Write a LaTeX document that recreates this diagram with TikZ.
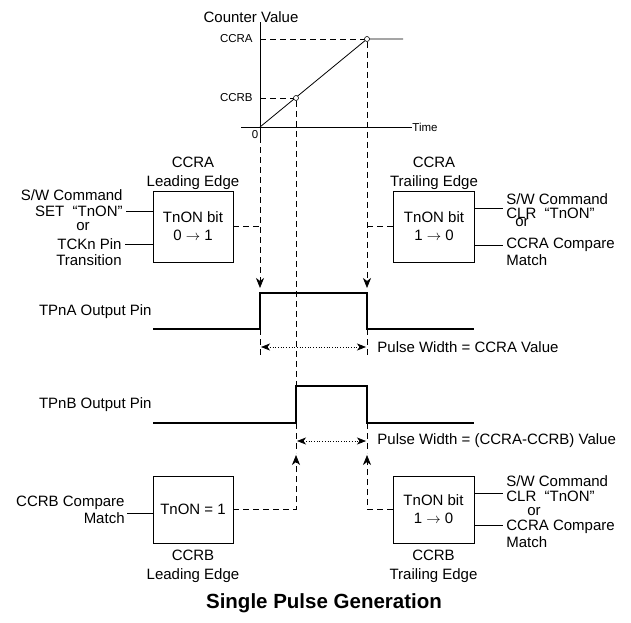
\documentclass[tikz,border=0pt]{standalone}
\usepackage{fontspec}
\setmainfont{Liberation Sans}
\usetikzlibrary{arrows.meta,positioning}

\tikzset{
  box/.style={draw, line width=0.8pt, minimum width=80pt, align=center, inner sep=0pt,
    font=\fontsize{15}{18}\selectfont},
  txt/.style={inner sep=0pt, font=\fontsize{15}{15}\selectfont},
  small/.style={inner sep=0pt, font=\fontsize{11.5}{12}\selectfont},
  head/.style={align=center, inner sep=0pt, font=\fontsize{15}{19}\selectfont},
  guide/.style={line width=0.7pt, dash pattern=on 6pt off 4pt},
  trig/.style={guide, -{Stealth[length=10pt,width=8pt,inset=3pt]}},
  wave/.style={line width=1.3pt},
  widtharrow/.style={line width=0.7pt, dotted,
    {Stealth[length=9pt,width=7pt,inset=2.5pt]}-{Stealth[length=9pt,width=7pt,inset=2.5pt]}},
  knot/.style={circle, draw, fill=white, inner sep=0pt, minimum size=5pt, line width=0.6pt}
}

\begin{document}
\begin{tikzpicture}[x=1pt,y=-1pt,line width=0.8pt]
  \useasboundingbox (0,0) rectangle (631,622);

  % counter value graph
  \coordinate (o) at (260,127);
  \coordinate (ay) at (260,22);
  \coordinate (ca) at (367,39);
  \coordinate (cb) at (296,98);
  \node[txt] (cv) at (251,17) {Counter Value};
  \node[small, anchor=east] (lccra) at (253,39) {CCRA};
  \node[small, anchor=east] (lccrb) at (253,98) {CCRB};
  \node[small] (zero) at (255,135) {0};
  \node[small, anchor=west] (time) at (412,127) {Time};
  \draw (241,127) -- (time.west);
  \draw (ay) -- (260,137);
  \draw[guide] (ay |- ca) -- (ca);
  \draw[guide] (ay |- cb) -- (cb);
  \draw (o) -- (ca) -- (403,39);
  \node[knot] (pa) at (ca) {};
  \node[knot] (pb) at (cb) {};

  % CCRA leading edge
  \node[box, minimum height=71pt] (la) at (193,226.5) {TnON bit\\0 $\rightarrow$ 1};
  \node[head, above=1pt of la] (lahd) {CCRA\\Leading Edge};
  \node[txt, anchor=east] (sw1) at (123,195) {S/W Command};
  \node[txt, anchor=east] (set1) at (123,211) {SET\ \ “TnON”};
  \node[txt] (or1) at (83,227) {or};
  \node[txt, anchor=east] (tck) at (122,244) {TCKn Pin};
  \node[txt, anchor=east] (trans) at (122,260) {Transition};
  \draw ([xshift=3pt]set1.east) -- (set1.east -| la.west);
  \draw ([xshift=3pt]tck.east) -- (tck.east -| la.west);

  % CCRA trailing edge
  \node[box, minimum height=71pt, minimum width=81pt] (ra) at (434,226.5) {TnON bit\\1 $\rightarrow$ 0};
  \node[head, above=1pt of ra] (rahd) {CCRA\\Trailing Edge};
  \node[txt, anchor=west] (sw2) at (506,199) {S/W Command};
  \node[txt, anchor=west] (clr2) at (506,213) {CLR\ \ “TnON”};
  \node[txt] (or2) at (522,223) {or};
  \node[txt, anchor=west] (cmp2) at (506,245) {CCRA Compare};
  \node[txt, anchor=west] (m2) at (506,260) {Match};
  \draw (ra.east |- 0,208) -- ([xshift=-3pt]sw2.west |- 0,208);
  \draw (ra.east |- cmp2) -- ([xshift=-3pt]cmp2.west);

  % TPnA
  \node[txt, anchor=east] (tpa) at (152,312) {TPnA Output Pin};
  \coordinate (a1) at (260,329);
  \coordinate (a2) at (260,293);
  \coordinate (a3) at (367,293);
  \coordinate (a4) at (367,329);
  \draw[wave] (153,329) -- (a1) -- (a2) -- (a3) -- (a4) -- (474,329);
  \draw[trig] (260,137) -- (260,288);
  \draw[guide] (la.east) -- (la.east -| o);
  \draw[trig] (pa) -- (367,288);
  \draw[guide] (ra.west) -- (ra.west -| pa);
  \draw[guide] (a1) -- ++(0,29);
  \draw[guide] (a4) -- ++(0,29);
  \draw[widtharrow] (261,347) -- (366,347);
  \node[txt, anchor=west] (pwa) at (377,347) {Pulse Width = CCRA Value};

  % TPnB
  \node[txt, anchor=east] (tpb) at (152,405) {TPnB Output Pin};
  \coordinate (b1) at (296,423);
  \coordinate (b2) at (296,386);
  \coordinate (b3) at (367,386);
  \coordinate (b4) at (367,423);
  \draw[guide] (pb) -- (b2);
  \draw[wave] (153,423) -- (b1) -- (b2) -- (b3) -- (b4) -- (474,423);
  \draw[widtharrow] (297,441) -- (366,441);
  \node[txt, anchor=west] (pwb) at (377,441) {Pulse Width = (CCRA-CCRB) Value};
  \draw[guide] (b1) -- ++(0,30);
  \draw[guide] (b4) -- ++(0,30);

  % CCRB leading edge
  \node[box, minimum height=67pt] (lb) at (193,509.5) {TnON = 1};
  \node[head, below=6pt of lb] (lbhd) {CCRB\\Leading Edge};
  \node[txt, anchor=east] (cmpb) at (125,503) {CCRB Compare};
  \node[txt, anchor=east] (mb) at (125,518) {Match};
  \draw (lb.west |- 0,513) -- (127,513);
  \draw[trig] (lb.east) -| (296,455);

  % CCRB trailing edge
  \node[box, minimum height=67pt, minimum width=81pt] (rb) at (433.5,509.5) {TnON bit\\1 $\rightarrow$ 0};
  \node[head, below=6pt of rb] (rbhd) {CCRB\\Trailing Edge};
  \node[txt, anchor=west] (sw3) at (506,481) {S/W Command};
  \node[txt, anchor=west] (clr3) at (506,496) {CLR\ \ “TnON”};
  \node[txt] (or3) at (534,512) {or};
  \node[txt, anchor=west] (cmp3) at (506,527) {CCRA Compare};
  \node[txt, anchor=west] (m3) at (506,542) {Match};
  \draw (rb.east |- 0,493) -- (503,493);
  \draw (rb.east |- 0,525) -- (503,525);
  \draw[trig] (rb.west) -| (367,455);

  \node[font=\bfseries\fontsize{20.5}{24}\selectfont] (title) at (324,603) {Single Pulse Generation};
\end{tikzpicture}
\end{document}
